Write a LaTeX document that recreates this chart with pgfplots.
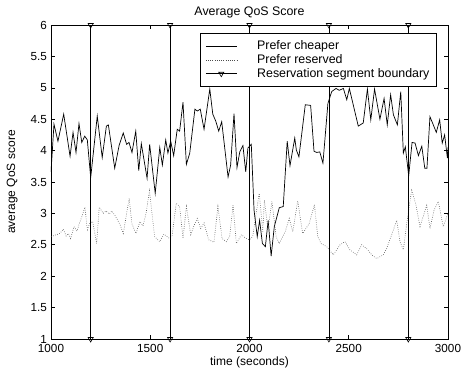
\documentclass[border=0pt]{standalone}
\usepackage{fontspec}
\setmainfont{Liberation Sans}
\usepackage{pgfplots}
\pgfplotsset{compat=1.18}
\begin{document}
\fontsize{12}{14}\selectfont
\begin{tikzpicture}
\begin{axis}[
  scale only axis,
  width=397pt, height=314pt,
  xmin=1000, xmax=3000, ymin=1, ymax=6,
  xtick={1000,1500,2000,2500,3000},
  ytick={1,1.5,2,2.5,3,3.5,4,4.5,5,5.5,6},
  yticklabels={1,1.5,2,2.5,3,3.5,4,4.5,5,5.5,6},
  xticklabels={1000,1500,2000,2500,3000},
  tick align=inside,
  major tick length=4pt,
  axis line style={line width=0.9pt},
  every tick/.style={black, line width=0.6pt},
  title={Average QoS Score},
  xlabel={time (seconds)},
  ylabel={average QoS score},
  every axis title shift=0pt,
  title style={font=\fontsize{12.4}{14}\selectfont, at={(axis description cs:0.5,1.041)}, anchor=center},
  label style={font=\fontsize{12}{14}\selectfont},
  xlabel style={at={(axis description cs:0.5,-0.073)}, anchor=center},
  ylabel style={at={(axis description cs:-0.098,0.5)}, anchor=center},
  tick label style={font=\fontsize{11.7}{14}\selectfont},
  xticklabel style={anchor=center, yshift=-9pt},
  legend style={at={(rel axis cs:0.972,0.975)}, anchor=north east, draw=black, line width=0.8pt,
    font=\fontsize{12.4}{14}\selectfont, row sep=-1pt, inner xsep=5pt, inner ysep=5.5pt},
  legend cell align=left,
  legend image code/.code={\draw[mark repeat=2,mark phase=2,#1] plot coordinates {(0pt,0pt) (15.5pt,0pt) (31pt,0pt)}; \path (-0.5pt,0pt) (49pt,0pt);},
  clip marker paths=false,
]
\addplot[black, line width=0.7pt] coordinates {
(1000,3.66) (1015,4.42) (1035,4.15) (1064,4.58) (1096,3.91) (1111,4.29) (1126,3.97) (1141,4.43)
(1155,4.13) (1170,4.23) (1183,4.17) (1200,3.57) (1233,4.55) (1258,3.89) (1279,4.39) (1289,4.41)
(1321,3.72) (1343,4.08) (1364,4.28) (1381,4.10) (1393,4.13) (1408,3.97) (1427,4.31) (1442,3.68)
(1455,4.11) (1484,3.56) (1497,4.10) (1525,3.32) (1548,4.05) (1561,3.77) (1578,4.17) (1589,3.96)
(1603,4.15) (1618,3.92) (1636,4.34) (1648,4.31) (1665,4.77) (1682,3.78) (1699,3.96) (1725,4.66)
(1737,4.63) (1752,4.66) (1771,4.34) (1800,4.98) (1815,4.58) (1830,4.47) (1845,4.31) (1860,4.46)
(1892,3.58) (1905,3.77) (1922,4.59) (1937,3.73) (1951,3.98) (1967,4.08) (1981,3.66) (1992,4.04)
(2009,4.10) (2023,3.05) (2039,2.63) (2051,2.89) (2065,2.52) (2080,2.47) (2094,2.89) (2109,2.32)
(2125,2.79) (2150,3.09) (2170,3.11) (2190,4.15) (2204,3.76) (2228,4.20) (2236,4.01) (2249,3.90)
(2261,4.21) (2281,4.73) (2308,4.72) (2325,3.99) (2339,3.97) (2354,3.98) (2370,3.80) (2395,4.75)
(2414,4.94) (2436,4.99) (2452,4.96) (2473,4.99) (2490,4.81) (2503,4.99) (2521,4.75) (2548,4.39)
(2573,4.44) (2594,4.98) (2611,4.49) (2630,4.98) (2657,4.50) (2678,4.83) (2694,4.41) (2711,4.89)
(2725,4.57) (2745,4.41) (2762,4.94) (2775,3.96) (2785,4.06) (2802,3.60) (2819,4.13) (2834,4.12)
(2851,3.92) (2868,4.07) (2883,3.72) (2894,3.72) (2909,4.54) (2926,4.41) (2941,4.29) (2958,4.49)
(2971,4.12) (2983,4.25) (2997,3.88) (3000,4.05)
};
\addlegendentry{Prefer cheaper}
\addplot[black!70, line width=0.6pt, dash pattern=on 0.6pt off 1.6pt] coordinates {
(1000,2.63) (1025,2.66) (1045,2.68) (1062,2.75) (1076,2.64) (1088,2.68) (1099,2.60) (1116,2.79)
(1131,2.72) (1143,2.84) (1156,2.95) (1171,3.10) (1183,2.74) (1196,2.85) (1210,2.87) (1230,2.52)
(1243,3.10) (1263,3.00) (1277,3.04) (1294,2.99) (1306,3.04) (1322,2.97) (1348,2.82) (1364,2.68)
(1394,3.24) (1407,2.84) (1428,2.68) (1448,2.87) (1463,2.80) (1479,3.00) (1496,3.36) (1522,2.63)
(1548,2.55) (1569,2.67) (1593,2.61) (1610,2.64) (1631,3.16) (1648,3.11) (1665,2.60) (1682,3.11)
(1704,2.66) (1720,2.80) (1737,2.92) (1754,2.76) (1771,2.85) (1794,2.58) (1821,2.54) (1841,3.11)
(1862,2.60) (1883,2.55) (1900,2.63) (1917,3.13) (1934,2.52) (1959,2.66) (1984,2.60) (1999,2.58)
(2016,2.63) (2049,3.32) (2067,2.71) (2075,3.21) (2093,2.75) (2113,3.19) (2134,2.63) (2150,2.52)
(2180,2.71) (2200,2.92) (2218,2.71) (2243,3.20) (2268,2.68) (2301,2.84) (2327,3.14) (2344,2.63)
(2360,2.52) (2389,2.47) (2422,2.34) (2456,2.50) (2481,2.55) (2506,2.42) (2540,2.34) (2565,2.50)
(2590,2.44) (2616,2.34) (2641,2.28) (2674,2.34) (2691,2.44) (2716,2.66) (2742,2.89) (2758,2.55)
(2775,2.42) (2792,2.84) (2817,3.37) (2839,3.13) (2859,2.79) (2893,3.13) (2909,2.76) (2930,3.05)
(2951,3.19) (2976,2.79) (3000,3.00)
};
\addlegendentry{Prefer reserved}
\addplot[black, line width=0.6pt, mark=triangle, mark size=3pt,
  mark options={rotate=180, solid, fill=white}, unbounded coords=jump] coordinates {
(1200,1) (1200,6) (1200,nan)
(1600,1) (1600,6) (1600,nan)
(2000,1) (2000,6) (2000,nan)
(2400,1) (2400,6) (2400,nan)
(2800,1) (2800,6)
};
\addlegendentry{Reservation segment boundary}
\coordinate (ll) at (rel axis cs:0,0);
\coordinate (ur) at (rel axis cs:1,1);
\end{axis}
\pgfresetboundingbox
\path ([shift={(-51pt,-33pt)}]ll) rectangle ([shift={(15pt,25pt)}]ur);
\end{tikzpicture}
\end{document}
